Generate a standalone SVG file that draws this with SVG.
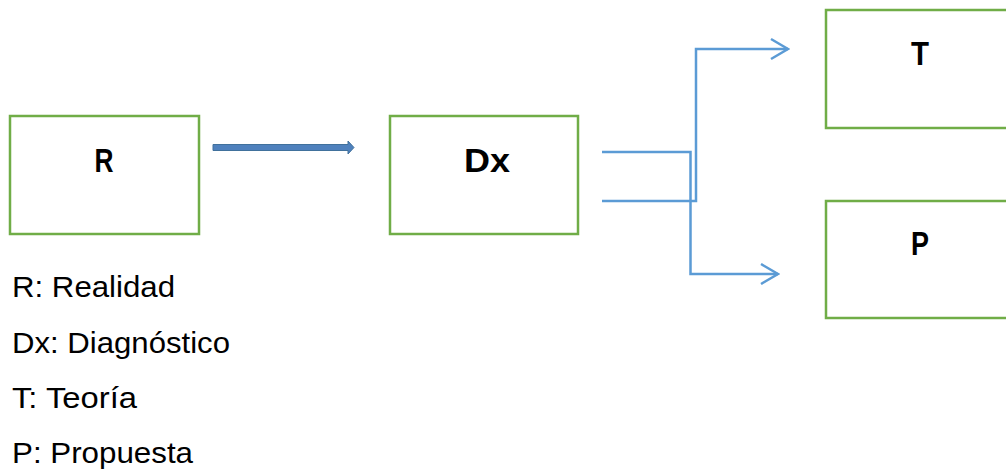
<svg xmlns="http://www.w3.org/2000/svg" width="1006" height="470" viewBox="0 0 1006 470">
<style>
.box{fill:#fff;stroke:#70AD47;stroke-width:2.5}
.lbl{font-family:"Liberation Sans",Arial,sans-serif;font-weight:bold;font-size:33px;fill:#000}
.leg{font-family:"Liberation Sans",Arial,sans-serif;font-size:29px;fill:#000}
.con{fill:none;stroke:#5B9BD5;stroke-width:2.5}
</style>
<defs>
<marker id="chev" viewBox="0 0 20 24" refX="18" refY="12" markerWidth="20" markerHeight="24" markerUnits="userSpaceOnUse" orient="auto">
<path d="M1,2 L18,12 L1,22" fill="none" stroke="#5B9BD5" stroke-width="2.5"/>
</marker>
</defs>
<rect width="1006" height="470" fill="#fff"/>
<g id="node-R"><rect class="box" x="10" y="116" width="189" height="118"/><text class="lbl" x="104" y="172" text-anchor="middle" textLength="19" lengthAdjust="spacingAndGlyphs">R</text></g>
<g id="node-Dx"><rect class="box" x="390" y="116" width="188" height="118"/><text class="lbl" x="487" y="172" text-anchor="middle" textLength="46" lengthAdjust="spacingAndGlyphs">Dx</text></g>
<g id="node-T"><rect class="box" x="826" y="10" width="190" height="118"/><text class="lbl" x="920" y="65" text-anchor="middle" textLength="18" lengthAdjust="spacingAndGlyphs">T</text></g>
<g id="node-P"><rect class="box" x="826" y="201" width="190" height="117"/><text class="lbl" x="920" y="255" text-anchor="middle" textLength="18" lengthAdjust="spacingAndGlyphs">P</text></g>
<g id="connectors">
<path d="M213,144.5 L348,144.5 L348,141 L354,147.5 L348,154 L348,150.5 L213,150.5 Z" fill="#4F81BD" stroke="#41719C" stroke-width="1"/>
<path class="con" d="M602,152 L690.5,152 L690.5,274 L778,274" marker-end="url(#chev)"/>
<path class="con" d="M602,201 L696,201 L696,49 L788,49" marker-end="url(#chev)"/>
</g>
<g id="legend">
<text class="leg" x="12" y="297" textLength="163" lengthAdjust="spacingAndGlyphs">R: Realidad</text>
<text class="leg" x="12" y="353" textLength="218" lengthAdjust="spacingAndGlyphs">Dx: Diagnóstico</text>
<text class="leg" x="12" y="408" textLength="125" lengthAdjust="spacingAndGlyphs">T: Teoría</text>
<text class="leg" x="12" y="463" textLength="181" lengthAdjust="spacingAndGlyphs">P: Propuesta</text>
</g>
</svg>
